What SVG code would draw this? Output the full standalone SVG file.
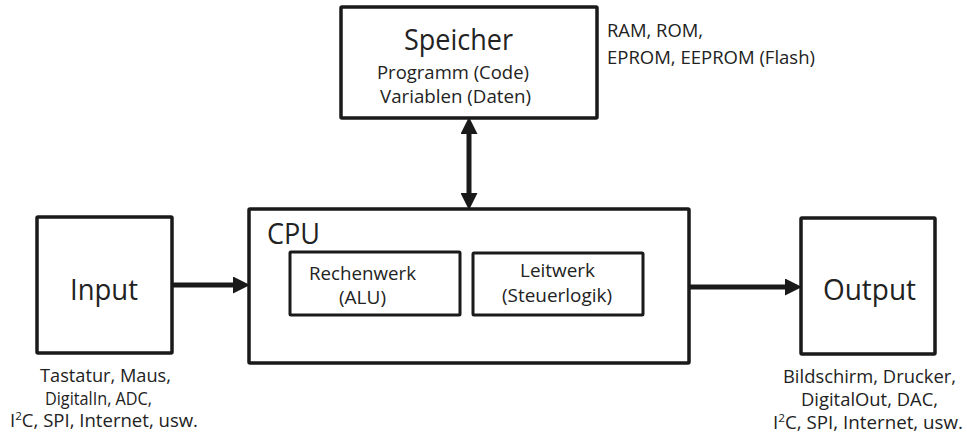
<svg xmlns="http://www.w3.org/2000/svg" width="967" height="439" viewBox="0 0 967 439">
<style>
.box{fill:#fff;stroke:#1a1a1a;stroke-width:3.5}
.inner{fill:#fff;stroke:#1a1a1a;stroke-width:3}
.conn{stroke:#1a1a1a;stroke-width:5;fill:none}
text{font-family:"Open Sans","Liberation Sans",sans-serif;fill:#222}
.big{font-size:30px}
.mid{font-size:17.5px}
.sup{font-size:11px}
</style>
<defs>
<marker id="head" markerUnits="userSpaceOnUse" markerWidth="17" markerHeight="17" viewBox="0 0 16 16" refX="0" refY="8" orient="auto-start-reverse">
<path d="M0,0 L16,8 L0,16 Z" fill="#1a1a1a"/>
</marker>
</defs>
<rect width="967" height="439" fill="#fff"/>
<g id="connectors">
<path class="conn" d="M172,285 H233" marker-end="url(#head)"/>
<path class="conn" d="M690,287 H785" marker-end="url(#head)"/>
<path class="conn" d="M469,134 V193" marker-start="url(#head)" marker-end="url(#head)"/>
</g>
<g id="speicher">
<rect class="box" x="341" y="7" width="256" height="111" rx="1"/>
<text class="big" x="404" y="50" textLength="109" lengthAdjust="spacingAndGlyphs">Speicher</text>
<text class="mid" x="377" y="79" textLength="152" lengthAdjust="spacingAndGlyphs">Programm (Code)</text>
<text class="mid" x="380" y="103" textLength="151" lengthAdjust="spacingAndGlyphs">Variablen (Daten)</text>
</g>
<g id="speicher-notes">
<text class="mid" x="607" y="37" textLength="96" lengthAdjust="spacingAndGlyphs">RAM, ROM,</text>
<text class="mid" x="607" y="64" textLength="208" lengthAdjust="spacingAndGlyphs">EPROM, EEPROM (Flash)</text>
</g>
<g id="input">
<rect class="box" x="37" y="217" width="135" height="136" rx="1"/>
<text class="big" x="70" y="300" textLength="68" lengthAdjust="spacingAndGlyphs">Input</text>
</g>
<g id="input-notes">
<text class="mid" x="40" y="382" textLength="131" lengthAdjust="spacingAndGlyphs">Tastatur, Maus,</text>
<text class="mid" x="45" y="405" textLength="107" lengthAdjust="spacingAndGlyphs">DigitalIn, ADC,</text>
<text class="mid" x="10" y="427" textLength="188" lengthAdjust="spacingAndGlyphs">I<tspan class="sup" dy="-7">2</tspan><tspan dy="7">C, SPI, Internet, usw.</tspan></text>
</g>
<g id="cpu">
<rect class="box" x="249" y="209" width="440" height="154" rx="1"/>
<text class="big" x="267" y="244" textLength="53" lengthAdjust="spacingAndGlyphs">CPU</text>
</g>
<g id="rechenwerk">
<rect class="inner" x="290" y="252" width="170" height="63" rx="1"/>
<text class="mid" x="309" y="280" textLength="107" lengthAdjust="spacingAndGlyphs">Rechenwerk</text>
<text class="mid" x="339" y="304" textLength="47" lengthAdjust="spacingAndGlyphs">(ALU)</text>
</g>
<g id="leitwerk">
<rect class="inner" x="473" y="253" width="170" height="62" rx="1"/>
<text class="mid" x="520" y="277" textLength="75" lengthAdjust="spacingAndGlyphs">Leitwerk</text>
<text class="mid" x="502" y="302" textLength="110" lengthAdjust="spacingAndGlyphs">(Steuerlogik)</text>
</g>
<g id="output">
<rect class="box" x="801" y="218" width="134" height="136" rx="1"/>
<text class="big" x="823" y="300" textLength="93" lengthAdjust="spacingAndGlyphs">Output</text>
</g>
<g id="output-notes">
<text class="mid" x="783" y="383" textLength="173" lengthAdjust="spacingAndGlyphs">Bildschirm, Drucker,</text>
<text class="mid" x="801" y="406" textLength="137" lengthAdjust="spacingAndGlyphs">DigitalOut, DAC,</text>
<text class="mid" x="773" y="429" textLength="190" lengthAdjust="spacingAndGlyphs">I<tspan class="sup" dy="-7">2</tspan><tspan dy="7">C, SPI, Internet, usw.</tspan></text>
</g>
</svg>
